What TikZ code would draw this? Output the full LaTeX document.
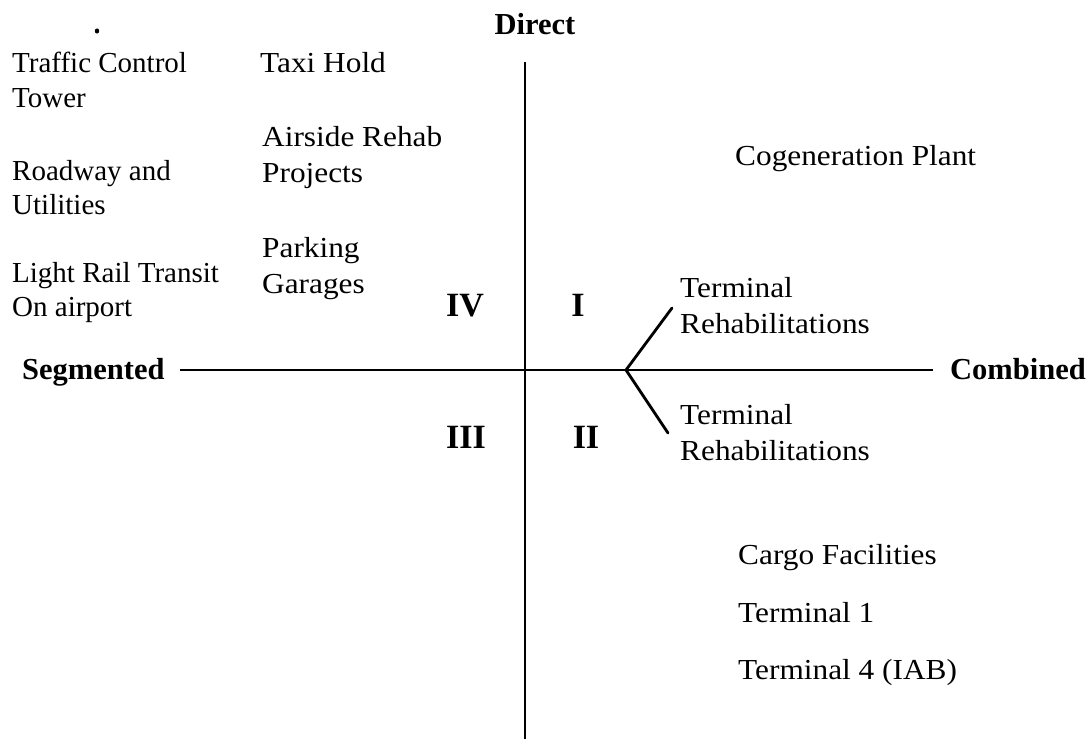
\documentclass[tikz,border=0pt]{standalone}
\usepackage{fontspec}
\setmainfont{Liberation Serif}
\newfontfamily\widefont[FakeStretch=1.08]{Liberation Serif}
\begin{document}
\begin{tikzpicture}[x=1pt,y=-1pt,
  lbl/.style={anchor=base west,inner sep=0pt,font=\fontsize{29}{34}\selectfont},
  widelbl/.style={lbl,font=\fontsize{29}{34}\widefont},
  axislbl/.style={inner sep=0pt,font=\fontsize{30.5}{34}\selectfont\bfseries},
  quad/.style={anchor=base,inner sep=0pt,font=\fontsize{34}{38}\selectfont\bfseries},
  axis/.style={line width=2.4pt},
  branch/.style={line width=2.8pt,line cap=round}]
\useasboundingbox (0,0) rectangle (1088,739);

% axes
\node[axislbl,anchor=base] (direct) at (535,34) {Direct};
\node[axislbl,anchor=base west] (segmented) at (22,379) {Segmented};
\node[axislbl,anchor=base west] (combined) at (950,379) {Combined};
\coordinate (vtop) at (525,62);
\coordinate (vbot) at (525,739);
\coordinate (hleft) at (180,370);
\coordinate (hright) at (933,370);
\draw[axis] (vtop) -- (vbot);
\draw[axis] (hleft) -- (hright);

% quadrant numerals
\node[quad] (q4) at (465,316) {IV};
\node[quad] (q1) at (578,316) {I};
\node[quad] (q3) at (466,448) {III};
\node[quad] (q2) at (586,448) {II};

% stray mark
\fill (97,31) ellipse (2.2 and 2.6);

% left column
\node[lbl] (tct1) at (12,72) {Traffic Control};
\node[lbl] (tct2) at (12,107) {Tower};
\node[lbl] (rdu1) at (12,180) {Roadway and};
\node[lbl] (rdu2) at (12,214) {Utilities};
\node[lbl] (lrt1) at (12,282) {Light Rail Transit};
\node[lbl] (lrt2) at (12,316) {On airport};

% second column
\node[widelbl] (taxi) at (260,72) {Taxi Hold};
\node[widelbl] (arp1) at (262,146) {Airside Rehab};
\node[widelbl] (arp2) at (262,182) {Projects};
\node[widelbl] (pg1) at (262,257) {Parking};
\node[widelbl] (pg2) at (262,293) {Garages};

% right side
\node[widelbl] (cogen) at (735,165) {Cogeneration Plant};
\node[widelbl] (tru1) at (680,297) {Terminal};
\node[widelbl] (tru2) at (680,333) {Rehabilitations};
\node[widelbl] (trl1) at (680,424) {Terminal};
\node[widelbl] (trl2) at (680,460) {Rehabilitations};
\node[widelbl] (cargo) at (738,564) {Cargo Facilities};
\node[widelbl] (t1) at (738,622) {Terminal 1};
\node[widelbl] (t4) at (738,679) {Terminal 4 (IAB)};

% split linking both terminal rehabilitations
\coordinate (fork) at (626,370);
\coordinate (forkup) at (672,308);
\coordinate (forkdn) at (668,433);
\draw[branch] (forkup) -- (fork) -- (forkdn);
\end{tikzpicture}
\end{document}
